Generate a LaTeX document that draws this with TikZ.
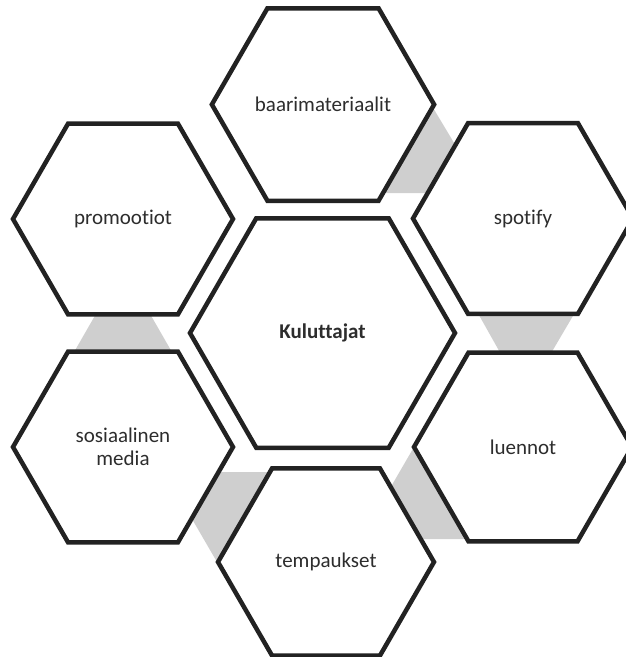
\documentclass[tikz,border=0pt]{standalone}
\usepackage{fontspec}
\setmainfont[Ligatures={NoCommon}]{Carlito}
\usetikzlibrary{shapes.geometric}
\definecolor{hexline}{RGB}{34,34,34}
\definecolor{hextext}{RGB}{45,45,45}
\definecolor{linkgray}{RGB}{207,207,207}
\begin{document}
\begin{tikzpicture}[x=1pt,y=-1pt,
  hexbox/.style={regular polygon, regular polygon sides=6, draw=hexline,
    line width=4.5pt, fill=white, inner sep=0pt, outer sep=0pt, text=hextext,
    font=\fontsize{21}{23}\selectfont, align=center},
  link/.style={fill=linkgray, draw=none}]
\useasboundingbox (0,0) rectangle (626,657);
% gray links (mostly hidden behind the hexagons)
\fill[link] (360,86) -- (420,86) -- (484,193) -- (360,193) -- cycle;
\fill[link] (466,292) -- (587,292) -- (540,372) -- (511,372) -- cycle;
\fill[link] (414,447) -- (378,509) -- (378,539) -- (500,539) -- (500,447) -- cycle;
\fill[link] (217,562) -- (181,500) -- (181,472) -- (300,472) -- (300,562) -- cycle;
\fill[link] (108,293) -- (138,293) -- (184,373) -- (62,373) -- cycle;
% hexagons
\node[hexbox, minimum size=265pt, font=\fontsize{21}{23}\selectfont\bfseries] (kul) at (322.5,333) {Kuluttajat};
\node[hexbox, minimum size=218pt] (baa) at (323,104.5) {baarimateriaalit};
\node[hexbox, minimum size=220pt] (spo) at (523,218.5) {spotify};
\node[hexbox, minimum size=218pt] (lue) at (523,447) {luennot};
\node[hexbox, minimum size=216pt] (tem) at (326,562) {tempaukset};
\node[hexbox, minimum size=220pt] (sos) at (123,447) {sosiaalinen\\media};
\node[hexbox, minimum size=220pt] (pro) at (123,219) {promootiot};
\end{tikzpicture}
\end{document}
